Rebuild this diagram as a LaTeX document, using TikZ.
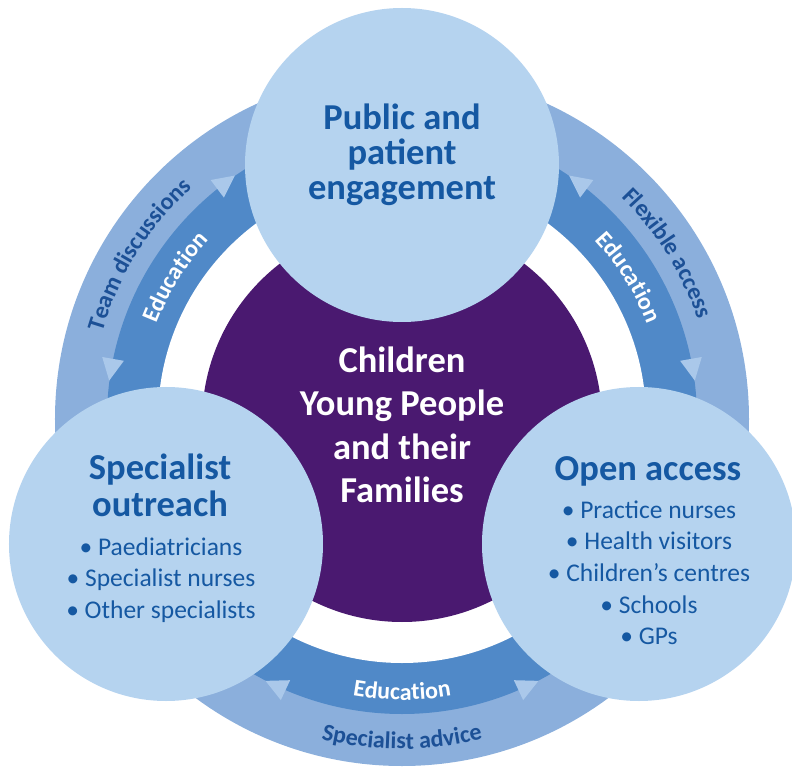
\documentclass[tikz,border=0pt]{standalone}
\usepackage{fontspec}
\setmainfont{Carlito}
\usepackage{tikz}
\usetikzlibrary{
  calc,
  decorations.text,
  positioning,
}
\definecolor{bubbleblue}{RGB}{181, 211, 239}
\definecolor{bandlight}{RGB}{139, 175, 220}
\definecolor{banddark}{RGB}{80, 137, 200}
\definecolor{tipblue}{RGB}{170, 200, 234}
\definecolor{familypurple}{RGB}{74, 25, 112}
\definecolor{headblue}{RGB}{21, 88, 162}
\definecolor{bandtext}{RGB}{28, 80, 150}
\newcommand{\bandfont}{\fontsize{24}{24}\selectfont\bfseries}
\tikzstyle{bubble} = [
  circle,
  fill=bubbleblue,
  minimum size=314pt,
  inner sep=0pt,
]
\tikzstyle{core} = [
  circle,
  fill=familypurple,
  minimum size=400pt,
  inner sep=0pt,
]
\tikzstyle{heading} = [
  anchor=base,
  inner sep=0pt,
  font=\fontsize{36.5}{36.5}\selectfont\bfseries,
  text=headblue,
]
\tikzstyle{item} = [
  anchor=base,
  inner sep=0pt,
  font=\fontsize{25.5}{25.5}\selectfont,
  text=headblue,
]
\tikzstyle{bandlabel} = [
  decorate,
  decoration={text along path, text align=center},
]

\begin{document}
\begin{tikzpicture}[x=1pt, y=1pt]
  \useasboundingbox (-402,-349) rectangle (390,419);

  %% \draw [red] (0,0) circle (347);

  \fill [bandlight] (0,0) circle (347);
  \fill [banddark] (0,0) circle (295);
  \fill [white] (0,0) circle (244);

  \foreach \a/\s in {127/-1, 170/1, 53/1, 10/-1, 245/-1, 295/1} {
    \fill [tipblue, rotate=\a] (284,-\s*9) -- (306,-\s*9) -- (295,\s*13) -- cycle;
  }

  \path [bandlabel, decoration={text color=bandtext, text={|\bandfont|Team discussions}}]
    (178:312) arc [start angle=178, end angle=118, radius=312];
  \path [bandlabel, decoration={text color=white, text={|\bandfont|Education}}]
    (178:263) arc [start angle=178, end angle=118, radius=263];
  \path [bandlabel, decoration={text color=bandtext, text={|\bandfont|Flexible access}}]
    (62:312) arc [start angle=62, end angle=2, radius=312];
  \path [bandlabel, decoration={text color=white, text={|\bandfont|Education}}]
    (62:263) arc [start angle=62, end angle=2, radius=263];
  \path [bandlabel, decoration={text color=white, text={|\bandfont|Education}}]
    (240:281) arc [start angle=240, end angle=300, radius=281];
  \path [bandlabel, decoration={text color=bandtext, text={|\bandfont|Specialist advice}}]
    (240:330) arc [start angle=240, end angle=300, radius=330];

  \node [core] (family) at (0,-3) {};
  \node [bubble] (public) at (0,254) {};
  \node [bubble] (outreach) at (-236,-125) {};
  \node [bubble] (access) at (237,-125) {};

  \foreach \txt [count=\i] in {Children, Young People, and their, Families} {
    \node [heading, text=white] (family-\i) at ($(family)+(0,92-43*\i)$) {\txt};
  }

  \foreach \txt [count=\i] in {Public and, patient, engagement} {
    \node [heading] (public-\i) at ($(public)+(0,70-35*\i)$) {\txt};
  }

  \node [heading] (outreach-1) at ($(outreach)+(-6,65)$) {Specialist};
  \node [heading] (outreach-2) at ($(outreach)+(-6,28)$) {outreach};
  \foreach \txt [count=\i] in {Paediatricians, Specialist nurses, Other specialists} {
    \node [item] (outreach-item-\i) at ($(outreach)+(-5,20.5-31.5*\i)$) {• \txt};
  }

  \node [heading] (access-1) at ($(access)+(9,64)$) {Open access};
  \foreach \txt [count=\i] in {Practice nurses, Health visitors, Children’s centres, Schools, GPs} {
    \node [item] (access-item-\i) at ($(access)+(10,57.7-31.7*\i)$) {• \txt};
  }
\end{tikzpicture}
\end{document}
